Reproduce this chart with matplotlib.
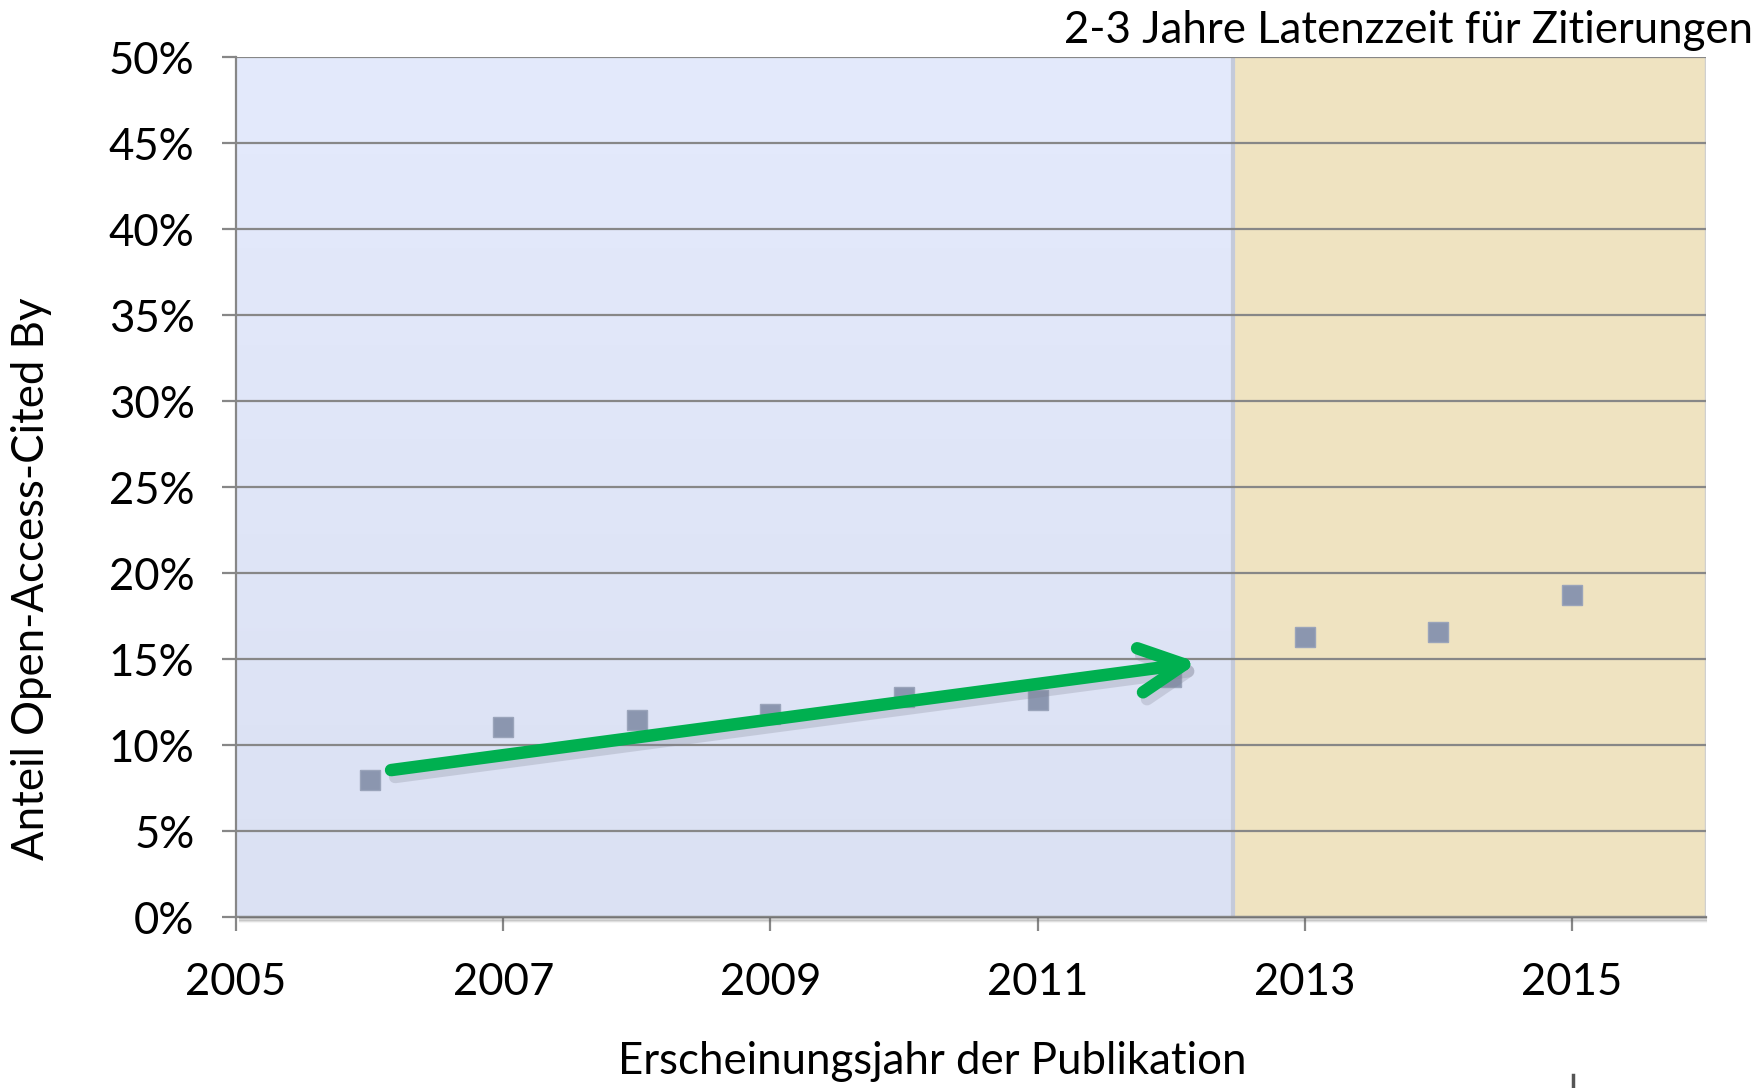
import numpy as np
import matplotlib
matplotlib.use("Agg")
import matplotlib.pyplot as plt
from matplotlib.patches import FancyArrowPatch
from matplotlib.lines import Line2D
from matplotlib.ticker import FuncFormatter

plt.rcParams['font.family'] = ['Lato', 'DejaVu Sans']

# data
years = [2006, 2007, 2008, 2009, 2010, 2011, 2012, 2013, 2014, 2015]
share = [8.0, 11.05, 11.45, 11.8, 12.8, 12.6, 13.95, 16.3, 16.6, 18.7]  # percent
trend_start = (2006.16, 8.55)
trend_end = (2012.2, 14.8)
latency_from = 2012.46
xlim = (2005, 2016)
ylim = (0, 50)

title = "2-3 Jahre Latenzzeit für Zitierungen"
xlabel = "Erscheinungsjahr der Publikation"
ylabel = "Anteil Open-Access-Cited By"

FS = 31.5

fig = plt.figure(figsize=(17.62, 10.88), dpi=100)
ax = fig.add_axes([0.134, 0.157, 0.834, 0.7906])
ax.set_xlim(*xlim)
ax.set_ylim(*ylim)

# blue gradient background (left part)
grad = np.linspace(0, 1, 256).reshape(-1, 1)
top_c = np.array([0xE4, 0xEA, 0xFC]) / 255
bot_c = np.array([0xDB, 0xE1, 0xF3]) / 255
img = top_c * (1 - grad[..., None]) + bot_c * grad[..., None]
img = img.reshape(256, 1, 3)
ax.imshow(img, extent=[xlim[0], latency_from, ylim[0], ylim[1]], aspect='auto',
          origin='upper', zorder=0)
# beige latency region
ax.axvspan(latency_from, xlim[1], color='#EFE3C1', zorder=0.5, lw=0)
ax.axvline(latency_from, color='#C4CADA', lw=3, zorder=0.6)
ax.axvline(xlim[1], color='#D0D0D0', lw=2.5, zorder=0.6)

# grid
ax.set_yticks(np.arange(0, 51, 5))
ax.set_xticks([2005, 2007, 2009, 2011, 2013, 2015])
ax.yaxis.grid(True, color='#878787', lw=1.6, zorder=1)
ax.set_axisbelow(False)
ax.grid(axis='x', visible=False)

ax.yaxis.set_major_formatter(FuncFormatter(lambda v, p: f"{int(v)}%"))
ax.tick_params(axis='both', labelsize=FS, colors='#878787', labelcolor='black',
               width=1.6, length=10, direction='out')
ax.tick_params(axis='x', pad=22)
ax.tick_params(axis='y', pad=20)
for s in ['top', 'right']:
    ax.spines[s].set_visible(False)
ax.spines['left'].set_color('#878787')
ax.spines['left'].set_linewidth(1.6)
ax.spines['bottom'].set_color('#878787')
ax.spines['bottom'].set_linewidth(1.6)

# shadow under the plot area
for i, a in enumerate([0.35, 0.22, 0.12, 0.06]):
    fig.add_artist(Line2D([0.136, 0.968], [0.157 - 0.0012 * (i + 1)] * 2,
                          color='#555555', alpha=a, lw=1.5, transform=fig.transFigure))

# data points
ax.plot(years, share, ls='none', marker='s', ms=14, color='#8B96AF',
        markeredgecolor='#9AA4BA', markeredgewidth=1, zorder=3)

# trend arrow with soft shadow
style = '->,head_length=1.6,head_width=0.8'
shadow = FancyArrowPatch((trend_start[0] + 0.03, trend_start[1] - 0.4),
                         (trend_end[0] + 0.03, trend_end[1] - 0.4),
                         arrowstyle=style, mutation_scale=20, lw=9, color='#7C7F90',
                         alpha=0.25, capstyle='round', joinstyle='round',
                         shrinkA=0, shrinkB=0, zorder=3.5)
ax.add_patch(shadow)
arrow = FancyArrowPatch(trend_start, trend_end, arrowstyle=style,
                        mutation_scale=20, lw=9, color='#00B050',
                        capstyle='round', joinstyle='round',
                        shrinkA=0, shrinkB=0, zorder=4)
ax.add_patch(arrow)

fig.text(0.995, 0.972, title, ha='right', va='center', fontsize=FS)
fig.text(0.529, 0.024, xlabel, ha='center', va='center', fontsize=FS)
fig.text(0.018, 0.468, ylabel, ha='center', va='center', rotation=90, fontsize=FS)

# small clipped mark at the bottom edge
fig.add_artist(Line2D([0.893, 0.893], [0.0, 0.012], color='#555555', lw=2.5,
                      transform=fig.transFigure))

fig.savefig("out.png", dpi=100)
